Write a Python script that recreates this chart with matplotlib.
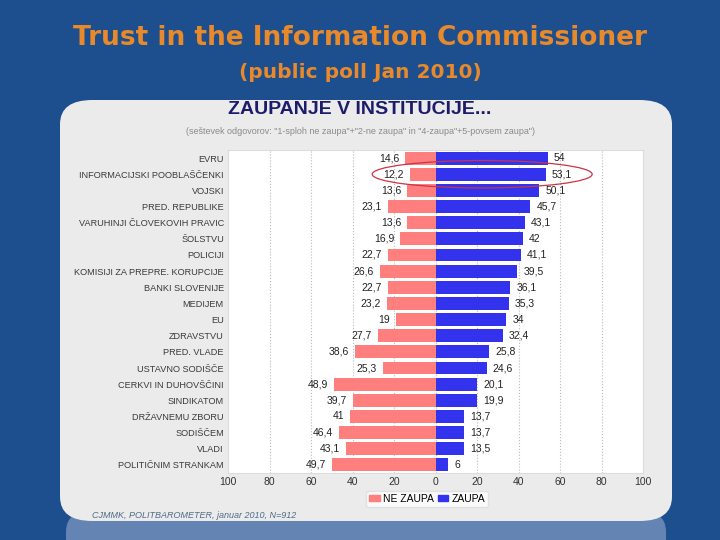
import numpy as np
import matplotlib.pyplot as plt
from matplotlib.patches import FancyBboxPatch, Ellipse

# podatki
institucije = ["EVRU", "INFORMACIJSKI POOBLAŠČENKI", "VOJSKI", "PRED. REPUBLIKE",
               "VARUHINJI ČLOVEKOVIH PRAVIC", "ŠOLSTVU", "POLICIJI",
               "KOMISIJI ZA PREPRE. KORUPCIJE", "BANKI SLOVENIJE", "MEDIJEM", "EU",
               "ZDRAVSTVU", "PRED. VLADE", "USTAVNO SODIŠČE", "CERKVI IN DUHOVŠČINI",
               "SINDIKATOM", "DRŽAVNEMU ZBORU", "SODIŠČEM", "VLADI", "POLITIČNIM STRANKAM"]
ne_zaupa = [14.6, 12.2, 13.6, 23.1, 13.6, 16.9, 22.7, 26.6, 22.7, 23.2,
            19, 27.7, 38.6, 25.3, 48.9, 39.7, 41, 46.4, 43.1, 49.7]
zaupa = [54, 53.1, 50.1, 45.7, 43.1, 42, 41.1, 39.5, 36.1, 35.3,
         34, 32.4, 25.8, 24.6, 20.1, 19.9, 13.7, 13.7, 13.5, 6]
x_ticks = [-100, -80, -60, -40, -20, 0, 20, 40, 60, 80, 100]

modra = '#1d4e8e'
fig = plt.figure(figsize=(7.2, 5.4), dpi=100, facecolor=modra)

W, H = 720, 540

def fx(px):
    return px / W

def fy(py):
    return 1 - py / H

# odsev pod ploščo
odsev = FancyBboxPatch((fx(66), fy(570)), fx(600), 60 / H,
                       boxstyle="round,pad=0,rounding_size=0.04",
                       transform=fig.transFigure, facecolor='#6484b4',
                       edgecolor='none', zorder=0)
fig.patches.append(odsev)

# siva plošča
plosca = FancyBboxPatch((fx(60), fy(521)), fx(612), 421 / H,
                        boxstyle="round,pad=0,rounding_size=0.045",
                        transform=fig.transFigure, facecolor='#ebebeb',
                        edgecolor='none', zorder=1)
fig.patches.append(plosca)

# naslovi
fig.text(0.5, fy(38), "Trust in the Information Commissioner", ha='center', va='center',
         fontsize=19, color='#e8892b', weight='bold', family='DejaVu Sans')
fig.text(0.5, fy(72), "(public poll Jan 2010)", ha='center', va='center',
         fontsize=14.5, color='#e8892b', weight='bold', family='DejaVu Sans')
fig.text(0.5, fy(110), "ZAUPANJE V INSTITUCIJE...", ha='center', va='center',
         fontsize=14, color='#1c1c6b', weight='bold', family='Liberation Sans', zorder=3)
fig.text(0.5, fy(131),
         '(seštevek odgovorov: "1-sploh ne zaupa"+"2-ne zaupa" in "4-zaupa"+5-povsem zaupa")',
         ha='center', va='center', fontsize=6.5, color='#8a8a8a',
         family='Liberation Sans', zorder=3)

# graf
ax = fig.add_axes([fx(228), fy(473), 415 / W, 323 / H], zorder=2)
ax.set_facecolor('white')
y = np.arange(len(institucije))
ax.barh(y, -np.array(ne_zaupa), height=0.8, color='#ff7f7f', zorder=2)
ax.barh(y, zaupa, height=0.8, color='#3333ee', zorder=2)

for i in range(len(institucije)):
    ax.text(-ne_zaupa[i] - 3, y[i], f"{ne_zaupa[i]:g}".replace('.', ','),
            ha='right', va='center', fontsize=7.5, color='#222222', family='Liberation Sans')
    ax.text(zaupa[i] + 3, y[i], f"{zaupa[i]:g}".replace('.', ','),
            ha='left', va='center', fontsize=7.5, color='#222222', family='Liberation Sans')

ax.set_xlim(-100, 100)
ax.set_ylim(len(institucije) - 0.5, -0.5)
ax.set_xticks(x_ticks)
ax.set_xticklabels([str(abs(v)) for v in x_ticks], fontsize=7.5, color='#333333',
                   family='Liberation Sans')
ax.set_yticks(y)
ax.set_yticklabels(institucije, fontsize=6.6, color='#3a3a3a', family='Liberation Sans')
ax.tick_params(length=0, pad=3)
ax.xaxis.grid(True, linestyle=':', color='#bbbbbb', linewidth=0.8, zorder=1)
ax.set_axisbelow(True)
for s in ax.spines.values():
    s.set_color('#dddddd')
    s.set_linewidth(0.8)

# elipsa okoli informacijskega pooblaščenca
ax.add_patch(Ellipse((22.5, 1), 106, 1.7, fill=False,
                     edgecolor='#cc3344', linewidth=0.9, zorder=4, clip_on=False))

# legenda
leg = fig.legend(handles=[plt.Rectangle((0, 0), 1, 1, color='#ff7f7f'),
                          plt.Rectangle((0, 0), 1, 1, color='#3333ee')],
                 labels=["NE ZAUPA", "ZAUPA"], loc='center',
                 bbox_to_anchor=(fx(427), fy(499)), ncol=2,
                 handlelength=1.0, handleheight=0.5, handletextpad=0.3,
                 columnspacing=0.4, borderpad=0.3, frameon=True,
                 prop={'family': 'Liberation Sans', 'size': 7.5})
leg.get_frame().set_facecolor('white')
leg.get_frame().set_edgecolor('#dddddd')
leg.set_zorder(5)

# vir
fig.text(fx(92), fy(515), "CJMMK, POLITBAROMETER, januar 2010, N=912", ha='left',
         va='center', fontsize=6.5, style='italic', color='#4d6c86',
         family='Liberation Sans', zorder=3)

fig.savefig('out.png', dpi=100, facecolor=modra)
